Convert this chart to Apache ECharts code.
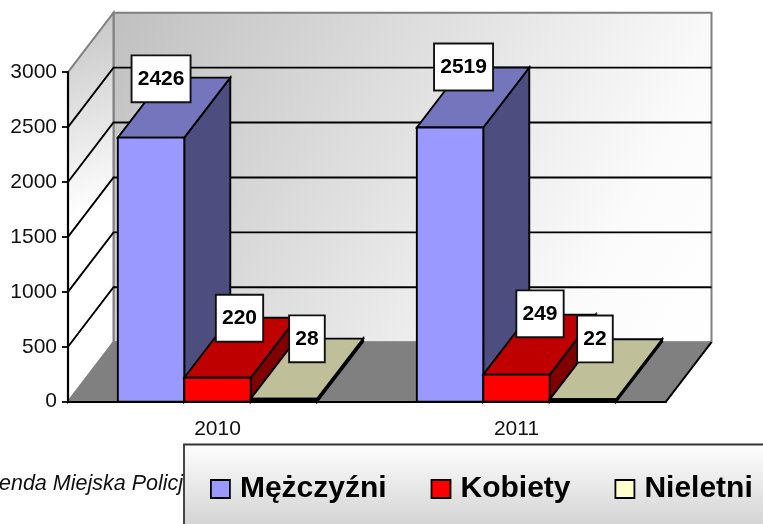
<!DOCTYPE html>
<html><head><meta charset="utf-8">
<style>html,body{margin:0;padding:0;background:#fff}#c{width:763px;height:524px}</style>
<script src="https://cdn.jsdelivr.net/npm/echarts@6/dist/echarts.min.js"></script>
</head><body><div id="c"></div>
<script>
const categories = ['2010', '2011'];
const seriesNames = ['Mężczyźni', 'Kobiety', 'Nieletni'];
const men = [2426, 2519];
const women = [220, 249];
const minors = [28, 22];
const yTicks = [0, 500, 1000, 1500, 2000, 2500, 3000];

const FONT = '"Liberation Sans", Arial, sans-serif';
const WALL = [45.5, -59.5], BAR = [46, -60];
const BAR_SCALE = 0.991; // perspective: the bars stand slightly in front of the scale's plane
const faces = [
  { front: '#9999ff', top: '#7575be', side: '#4d4d80' },
  { front: '#ff0000', top: '#bf0000', side: '#800000' },
  { front: '#ffffcc', top: '#bfbf99', side: '#808066' }
];
const labelDx = [[10, 13.5], [22, 23.5], [23, 12]];
const labelDy = [[-58.8, -60.5], [-59.5, -60.8], [-59.8, -60.4]];
const stroke = { stroke: '#000', lineWidth: 1.9, lineJoin: 'miter' };

function barRender(si) {
  return function (params, api) {
    const idx = api.value(0), val = api.value(1);
    const band = api.size([1, 0])[0], w = band / 4.5;
    const c = api.coord([idx, val]), y0 = api.coord([idx, 0])[1];
    const l = c[0] - band / 2 + w * 0.75 + si * w, r = l + w;
    const t = y0 + (c[1] - y0) * BAR_SCALE;
    const f = faces[si], dx = BAR[0], dy = BAR[1];
    const poly = (pts, fill) => ({ type: 'polygon', shape: { points: pts }, style: Object.assign({ fill }, stroke) });
    return {
      type: 'group',
      children: [
        poly([[r, t], [r + dx, t + dy], [r + dx, y0 + dy], [r, y0]], f.side),
        poly([[l, t], [l + dx, t + dy], [r + dx, t + dy], [r, t]], f.top),
        poly([[l, t], [r, t], [r, y0], [l, y0]], y0 - t < 5 ? '#000' : f.front),
        {
          type: 'text', z2: 50,
          style: {
            x: (l + r) / 2 + labelDx[si][idx], y: t + labelDy[si][idx],
            text: String(val), align: 'center', verticalAlign: 'middle',
            font: 'bold 21px ' + FONT, fill: '#000',
            backgroundColor: '#fff', borderColor: '#111', borderWidth: 1.9,
            padding: [12.5, 5.2, 11.5, 5.2]
          }
        }
      ]
    };
  };
}

function frameRender(params, api) {
  const band = api.size([1, 0])[0];
  const L = api.coord([0, 0])[0] - band / 2, R = L + band * categories.length;
  const yb = api.coord([0, 0])[1], yt = api.coord([0, 3000])[1];
  const dx = WALL[0], dy = WALL[1];
  const grey = '#808080';
  const kids = [
    { type: 'polygon', shape: { points: [[L + dx, yt + dy], [R + dx, yt + dy], [R + dx, yb + dy], [L + dx, yb + dy]] },
      style: { fill: { type: 'linear', x: 0, y: 0, x2: 1, y2: 1, colorStops: [{ offset: 0, color: '#c0c0c0' }, { offset: 0.8, color: '#fbfbfb' }, { offset: 1, color: '#ffffff' }] }, stroke: grey, lineWidth: 2 } },
    { type: 'polygon', shape: { points: [[L, yt], [L + dx, yt + dy], [L + dx, yb + dy], [L, yb]] },
      style: { fill: { type: 'linear', x: 0, y: 0, x2: 1, y2: 0.5, colorStops: [{ offset: 0, color: '#c4c4c4' }, { offset: 1, color: '#ffffff' }] }, stroke: grey, lineWidth: 2 } },
    { type: 'polygon', shape: { points: [[L, yb], [L + dx, yb + dy], [R + dx, yb + dy], [R, yb]] },
      style: { fill: grey, stroke: grey, lineWidth: 1 } },
    { type: 'line', shape: { x1: R, y1: yb, x2: R + dx, y2: yb + dy }, style: { stroke: '#000', lineWidth: 1.9 } }
  ];
  yTicks.forEach(v => {
    if (v === 0 || v === 3000) return;
    const y = api.coord([0, v])[1];
    kids.push({ type: 'polyline', shape: { points: [[L, y], [L + dx, y + dy], [R + dx, y + dy]] }, style: { fill: 'none', stroke: '#000', lineWidth: 1.9 } });
  });
  return { type: 'group', children: kids };
}

const chart = echarts.init(document.getElementById('c'), null, { renderer: 'canvas' });
const mk = (si, arr) => ({
  name: seriesNames[si], type: 'custom', renderItem: barRender(si), z: 3 + si,
  itemStyle: { color: faces[si].front, borderColor: '#000', borderWidth: 1.5 },
  encode: { x: 0, y: 1 }, data: arr.map((v, i) => [i, v])
});
chart.setOption({
  animation: false,
  grid: { left: 68, right: 97, top: 72.2, bottom: 122.3, containLabel: false },
  xAxis: {
    type: 'category', data: categories, z: 10,
    axisLine: { lineStyle: { color: '#000', width: 2.2 } },
    axisTick: { length: 7, lineStyle: { color: '#000', width: 1.8 } },
    axisLabel: { margin: 17, color: '#111', fontSize: 21, fontFamily: FONT }
  },
  yAxis: {
    type: 'value', min: 0, max: 3000, interval: 500, z: 10,
    axisLine: { show: true, lineStyle: { color: '#000', width: 2.2 } },
    axisTick: { show: true, length: 6, lineStyle: { color: '#000', width: 1.8 } },
    axisLabel: { margin: 11, color: '#111', fontSize: 21, fontFamily: FONT, formatter: v => String(v) },
    splitLine: { show: false }
  },
  legend: {
    left: 210, top: 474, itemWidth: 19, itemHeight: 18, itemGap: 44, selectedMode: false,
    icon: 'rect', padding: 0,
    textStyle: { fontFamily: FONT, fontWeight: 'bold', fontSize: 30, color: '#000', padding: [0, 0, 0, 5] },
    data: seriesNames.map((n, i) => ({ name: n, icon: 'rect', itemStyle: { color: faces[i].front, borderColor: '#000', borderWidth: 1.8 } }))
  },
  graphic: [
    { type: 'text', z: 1, style: { x: -1, y: 484, text: 'enda Miejska Policji', font: 'italic 21.5px ' + FONT, fill: '#111', verticalAlign: 'middle' } },
    { type: 'rect', z: 2, shape: { x: 184, y: 444.5, width: 620, height: 120 },
      style: { stroke: '#333', lineWidth: 1.8, fill: { type: 'linear', x: 0, y: 0, x2: 0, y2: 1, colorStops: [{ offset: 0, color: '#ffffff' }, { offset: 0.66, color: '#d4d4d4' }, { offset: 1, color: '#d4d4d4' }] } } }
  ],
  series: [
    { name: '__frame', type: 'custom', renderItem: frameRender, z: 1, silent: true, encode: { x: 0, y: 1 }, data: [[0, 0]] },
    mk(0, men), mk(1, women), mk(2, minors)
  ]
});
</script></body></html>
